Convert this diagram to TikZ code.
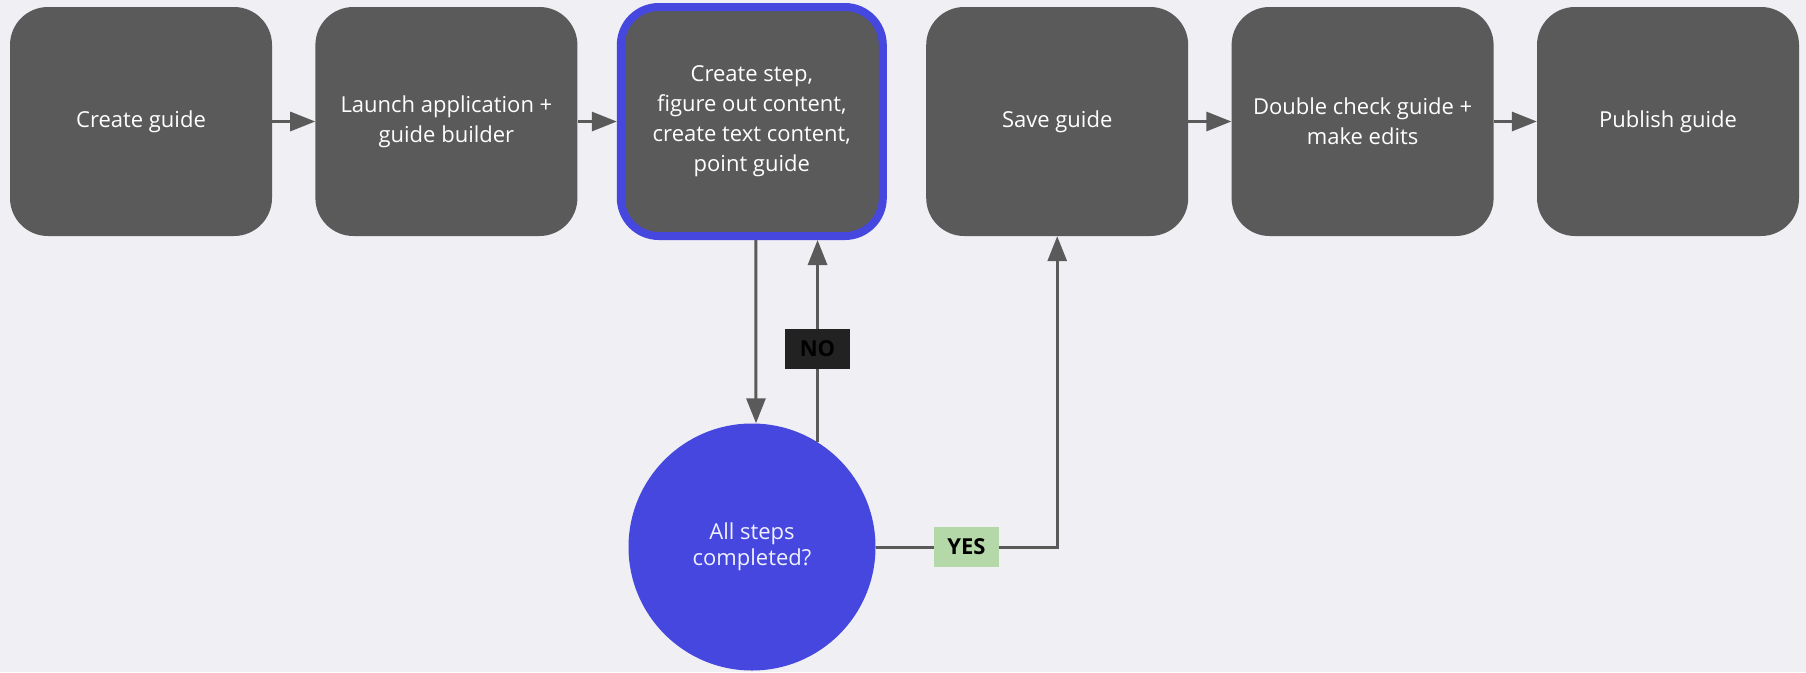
\documentclass[tikz,border=0pt]{standalone}
\usepackage{fontspec}
\setmainfont{Open Sans}
\usetikzlibrary{arrows.meta}
\definecolor{bg}{HTML}{EFEFF4}
\definecolor{boxc}{HTML}{5A5A5A}
\definecolor{blu}{HTML}{4547DE}
\definecolor{nofill}{HTML}{222222}
\definecolor{yesfill}{HTML}{B5D8A8}
\definecolor{ctext}{HTML}{F0F0FF}
\begin{document}
\begin{tikzpicture}[x=1pt,y=-1pt,
  stepbox/.style={fill=boxc, rounded corners=38pt, minimum width=262pt, minimum height=229pt,
    text=white, align=center, font=\fontsize{22}{30}\selectfont, inner sep=0pt},
  conn/.style={draw=boxc, line width=3pt, -{Triangle[length=25pt,width=19pt]}},
  lbl/.style={minimum width=65pt, minimum height=40pt, inner sep=0pt, text=black,
    font=\fontsize{22}{26}\selectfont\bfseries}
]
\fill[bg] (0,0) rectangle (1806,672);
\useasboundingbox (0,0) rectangle (1806,672);

\node[stepbox] (b1) at (141,121.5) {Create guide};
\node[stepbox] (b2) at (446.4,121.5) {Launch application +\\guide builder};
\node[stepbox, draw=blu, line width=8pt] (b3) at (751.8,121.5) {Create step,\\figure out content,\\create text content,\\point guide};
\node[stepbox] (b4) at (1057.2,121.5) {Save guide};
\node[stepbox] (b5) at (1362.6,121.5) {Double check guide +\\make edits};
\node[stepbox] (b6) at (1668,121.5) {Publish guide};

\node[circle, fill=blu, minimum size=247pt, inner sep=0pt, text=ctext, align=center,
  font=\fontsize{22}{26}\selectfont] (c) at (752,547) {All steps\\completed?};

\draw[conn] (b1.east) -- (b2.west);
\draw[conn] (b2.east) -- (b3.west);
\draw[conn] (b4.east) -- (b5.west);
\draw[conn] (b5.east) -- (b6.west);

\draw[conn] ([xshift=4pt]b3.south) -- ([xshift=4pt]c.north);
\draw[conn] (c.58.8) -- node[lbl, fill=nofill, pos=0.461] (no) {NO} (c.58.8 |- b3.south);
\draw[conn] (c.east) -- node[lbl, fill=yesfill, pos=0.5] (yes) {YES} (c.east -| b4.south) -- (b4.south);
\end{tikzpicture}
\end{document}
